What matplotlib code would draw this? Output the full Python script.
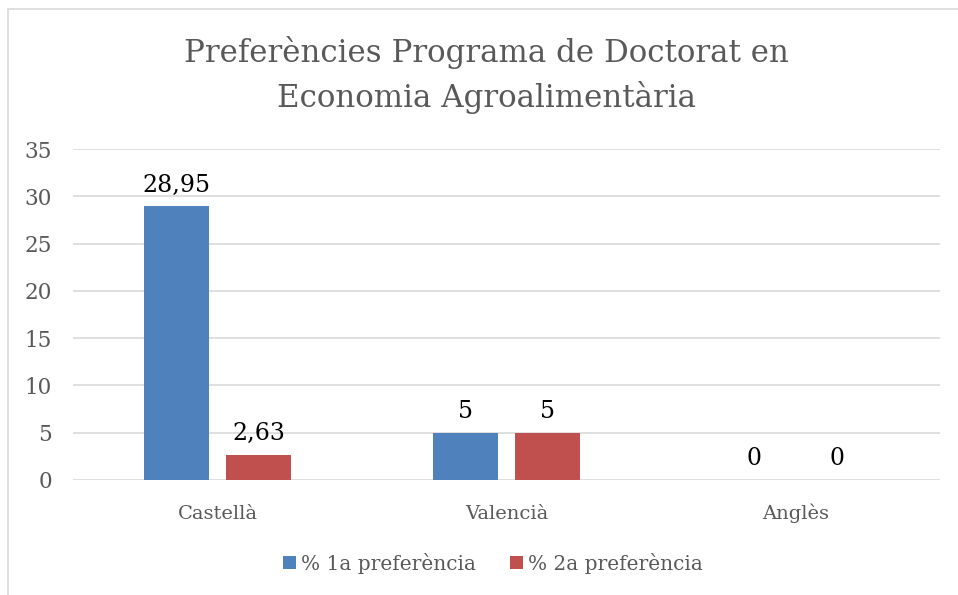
import numpy as np
import matplotlib.pyplot as plt
from matplotlib.patches import Rectangle

# Dades
categories = ['Castellà', 'Valencià', 'Anglès']
pref_1a = [28.95, 5, 0]
pref_2a = [2.63, 5, 0]
series_names = ['% 1a preferència', '% 2a preferència']
yticks = [0, 5, 10, 15, 20, 25, 30, 35]

titol = 'Preferències Programa de Doctorat en\nEconomia Agroalimentària'

plt.rcParams['font.family'] = ['DejaVu Serif']

W, H = 958, 595
fig = plt.figure(figsize=(W / 100, H / 100), dpi=100)

# Vora del gràfic (només es veu a dalt i a l'esquerra)
fig.patches.append(Rectangle((8 / W, -0.1), 1.0, (H - 9) / H + 0.1,
                             transform=fig.transFigure, fill=False,
                             edgecolor='#d9d9d9', linewidth=1.2))

# Àrea de traçat en píxels
x0, x1, y_top, y_bot = 73, 940, 149, 480
ax = fig.add_axes([x0 / W, (H - y_bot) / H, (x1 - x0) / W, (y_bot - y_top) / H])

x = np.arange(len(categories))
amp = 0.222
desp = 0.142
b1 = ax.bar(x - desp, pref_1a, amp, color='#4f81bd', label=series_names[0])
b2 = ax.bar(x + desp, pref_2a, amp, color='#c0504d', label=series_names[1])

fmt = lambda v: f"{v:g}".replace('.', ',')
for barres, vals in [(b1, pref_1a), (b2, pref_2a)]:
    ax.bar_label(barres, labels=[fmt(v) for v in vals], padding=7,
                 fontsize=17, color='#000000')

ax.set_xlim(-0.5, len(categories) - 0.5)
ax.set_ylim(0, 35)
ax.set_yticks(yticks)
ax.set_xticks(x)
ax.set_xticklabels(categories, va='baseline')
ax.tick_params(axis='both', length=0, colors='#595959')
ax.tick_params(axis='y', pad=15, labelsize=15.5)
ax.tick_params(axis='x', pad=28, labelsize=14)
ax.grid(axis='y', color='#d9d9d9', linewidth=1.2)
ax.set_axisbelow(True)
for s in ax.spines.values():
    s.set_visible(False)

fig.text(486 / W, 1 - 75 / H, titol, ha='center', va='center',
         fontsize=22.2, color='#595959', linespacing=1.45)

fig.legend(loc='center', bbox_to_anchor=(493 / W, 1 - 563 / H), ncol=2,
           frameon=False, fontsize=14.5, labelcolor='#595959',
           handlelength=0.65, handleheight=0.65, handletextpad=0.25,
           columnspacing=1.7)

plt.savefig('out.png', dpi=100)
